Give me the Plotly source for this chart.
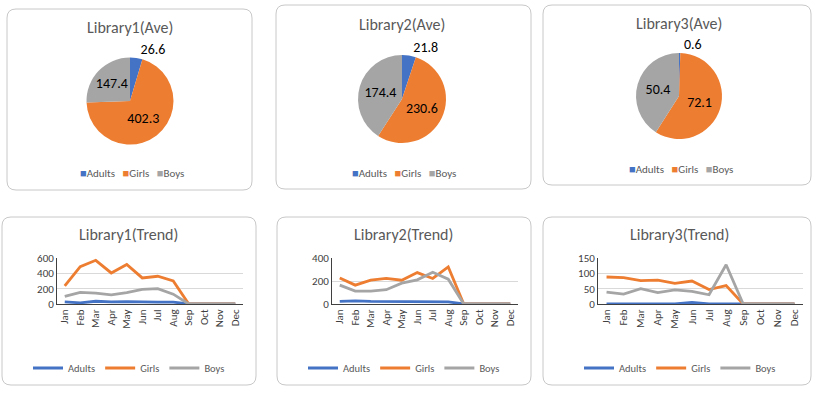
import plotly.graph_objects as go

# ---------------- data ----------------
series = ["Adults", "Girls", "Boys"]
months = ["Jan", "Feb", "Mar", "Apr", "May", "Jun", "Jul", "Aug", "Sep", "Oct", "Nov", "Dec"]

lib1_ave = [26.6, 402.3, 147.4]
lib2_ave = [21.8, 230.6, 174.4]
lib3_ave = [0.6, 72.1, 50.4]

lib1_adults = [28, 15, 36, 27, 32, 25, 25, 25, 0, 0, 0, 0]
lib1_girls = [237, 488, 570, 405, 515, 340, 362, 301, 0, 0, 0, 0]
lib1_boys = [99, 152, 143, 120, 147, 190, 200, 128, 0, 0, 0, 0]

lib2_adults = [23, 28, 22, 22, 18, 22, 20, 19, 0, 0, 0, 0]
lib2_girls = [227, 164, 207, 222, 207, 273, 222, 322, 0, 0, 0, 0]
lib2_boys = [164, 112, 112, 124, 181, 210, 276, 216, 0, 0, 0, 0]

lib3_adults = [0, 0, 0, 0, 0, 5, 0, 0, 0, 0, 0, 0]
lib3_girls = [88, 86, 76, 78, 67, 75, 47, 60, 0, 0, 0, 0]
lib3_boys = [39, 32, 50, 37, 46, 41, 30, 128, 0, 0, 0, 0]

pie_titles = ["Library1(Ave)", "Library2(Ave)", "Library3(Ave)"]
line_titles = ["Library1(Trend)", "Library2(Trend)", "Library3(Trend)"]

# ---------------- styling ----------------
W, H = 820, 393
colors = ["#4472C4", "#ED7D31", "#A5A5A5"]
FONT = "Calibri, Carlito, Lato, sans-serif"
TITLE_COLOR = "#595959"
TEXT_COLOR = "#404040"


def fx(x):
    return x / W


def fy(y):
    return 1 - y / H


fig = go.Figure()

# panel boxes (pixel layout)
boxes = [
    (7, 9, 252, 190), (276, 5, 531, 189), (543, 5, 811, 185),
    (2, 217, 256, 385), (277, 217, 531, 385), (543, 217, 811, 385),
]


def rounded_path(x0, y0, x1, y1, r=9):
    pts = []
    pts.append(f"M {fx(x0 + r)} {fy(y0)}")
    pts.append(f"L {fx(x1 - r)} {fy(y0)}")
    pts.append(f"Q {fx(x1)} {fy(y0)} {fx(x1)} {fy(y0 + r)}")
    pts.append(f"L {fx(x1)} {fy(y1 - r)}")
    pts.append(f"Q {fx(x1)} {fy(y1)} {fx(x1 - r)} {fy(y1)}")
    pts.append(f"L {fx(x0 + r)} {fy(y1)}")
    pts.append(f"Q {fx(x0)} {fy(y1)} {fx(x0)} {fy(y1 - r)}")
    pts.append(f"L {fx(x0)} {fy(y0 + r)}")
    pts.append(f"Q {fx(x0)} {fy(y0)} {fx(x0 + r)} {fy(y0)} Z")
    return " ".join(pts)


shapes = [
    dict(type="path", xref="paper", yref="paper", path=rounded_path(*b),
         line=dict(color="#C8C8C8", width=1), fillcolor="rgba(0,0,0,0)", layer="below")
    for b in boxes
]

# ---------------- pies ----------------
pie_geo = [  # center x, center y, radius (px), legend y, title y
    (130, 101, 43.5, 173, 27),
    (402, 99, 44, 173, 25),
    (679, 96, 43, 169, 23),
]
pie_vals = [lib1_ave, lib2_ave, lib3_ave]

annotations = []
for i, (vals, (cx, cy, r, ly, ty)) in enumerate(zip(pie_vals, pie_geo)):
    fig.add_trace(go.Pie(
        labels=series, values=vals, sort=False, direction="clockwise", rotation=0,
        marker=dict(colors=colors, line=dict(width=0)),
        texttemplate="%{value}", textposition=["outside", "inside", "inside"],
        insidetextorientation="horizontal",
        textfont=dict(family=FONT, size=14, color="#000000"),
        domain=dict(x=[fx(cx - r), fx(cx + r)], y=[fy(cy + r), fy(cy - r)]),
        showlegend=False, hoverinfo="label+value",
    ))
    annotations.append(dict(text=pie_titles[i], x=fx(cx), y=fy(ty), xanchor="center",
                            yanchor="middle", xref="paper", yref="paper", showarrow=False,
                            font=dict(family=FONT, size=16, color=TITLE_COLOR)))
    # legend row for the pie: coloured square + series name
    legend_text = "&nbsp;&nbsp;&nbsp;".join(
        f'<span style="color:{c}">■</span>{n}' for n, c in zip(series, colors)
    )
    annotations.append(dict(text=legend_text, x=fx(cx + 2), y=fy(ly), xanchor="center",
                            yanchor="middle", xref="paper", yref="paper", showarrow=False,
                            font=dict(family=FONT, size=11, color=TITLE_COLOR)))

# ---------------- lines ----------------
line_data = [
    [lib1_adults, lib1_girls, lib1_boys],
    [lib2_adults, lib2_girls, lib2_boys],
    [lib3_adults, lib3_girls, lib3_boys],
]
line_geo = [  # plot x0, x1, title x, legend center x, y max, dtick
    (57, 243, 128, 129, 600, 200),
    (332, 518, 403, 404, 400, 200),
    (598, 803, 679, 680, 150, 50),
]
axis_layout = {}
layout_legends = {}
for i, (data, (x0, x1, tx, lx, ymax, dt)) in enumerate(zip(line_data, line_geo)):
    k = "" if i == 0 else str(i + 1)
    lg = "legend" if i == 0 else f"legend{i + 1}"
    for s, name, c in zip(data, series, colors):
        fig.add_trace(go.Scatter(
            x=months, y=s, name=name, mode="lines",
            line=dict(color=c, width=2.8), xaxis="x" + k, yaxis="y" + k,
            legend=lg, showlegend=True,
        ))
    axis_layout["xaxis" + k] = dict(
        domain=[fx(x0), fx(x1)], anchor="y" + k, type="category",
        range=[-0.5, 11.5], tickangle=-90, showgrid=False, showline=True,
        linecolor="#404040", linewidth=1, ticks="", zeroline=False,
        tickfont=dict(family=FONT, size=11, color=TEXT_COLOR), fixedrange=True,
    )
    axis_layout["yaxis" + k] = dict(
        domain=[fy(304), fy(258)], anchor="x" + k, range=[0, ymax], dtick=dt,
        showgrid=True, gridcolor="#D9D9D9", gridwidth=1, showline=True,
        linecolor="#404040", linewidth=1, ticks="", zeroline=False,
        tickfont=dict(family=FONT, size=11, color=TEXT_COLOR), fixedrange=True,
    )
    annotations.append(dict(text=line_titles[i], x=fx(tx), y=fy(235), xanchor="center",
                            yanchor="middle", xref="paper", yref="paper", showarrow=False,
                            font=dict(family=FONT, size=16, color=TITLE_COLOR)))
    layout_legends[lg] = dict(
        orientation="h", x=fx(lx), y=fy(368), xanchor="center", yanchor="middle",
        font=dict(family=FONT, size=10.5, color=TITLE_COLOR), bgcolor="rgba(0,0,0,0)",
        itemwidth=30, tracegroupgap=0,
    )

fig.update_layout(
    width=W, height=H, margin=dict(l=0, r=0, t=0, b=0, autoexpand=False),
    paper_bgcolor="white", plot_bgcolor="white",
    shapes=shapes, annotations=annotations,
    font=dict(family=FONT),
    **axis_layout, **layout_legends,
)

fig.write_html(
    "out.html",
    config={"displayModeBar": False},
    post_script="document.body.style.margin='0';document.body.style.overflow='hidden';",
)
